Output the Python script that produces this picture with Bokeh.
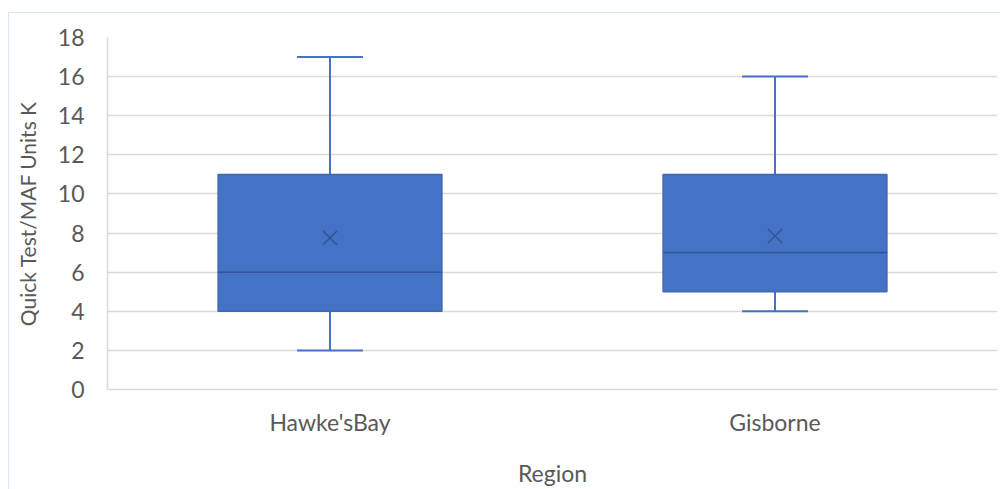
from bokeh.plotting import figure
from bokeh.models import FactorRange, Range1d, ColumnDataSource
from bokeh.transform import dodge
from bokeh.embed import file_html
from bokeh.resources import INLINE

# Box-plot statistics per region (thousands of units)
regions = ["Hawke'sBay", "Gisborne"]
minimum = [2, 4]
q1 = [4, 5]
median = [6, 7]
q3 = [11, 11]
maximum = [17, 16]
mean = [7.75, 7.85]

y_ticks = [0, 2, 4, 6, 8, 10, 12, 14, 16, 18]

FONT = "Lato"
TEXT = "#595959"
BLUE = "#4472C4"
DARK = "#2F5597"
GRID = "#D9D9D9"

src = ColumnDataSource(dict(x=regions, lo=minimum, q1=q1, med=median,
                            q3=q3, hi=maximum, mean=mean))

p = figure(x_range=FactorRange(*regions, range_padding=0),
           y_range=Range1d(0, 18),
           width=992, height=477,
           output_backend="svg", toolbar_location=None,
           min_border_left=98, min_border_right=4,
           min_border_top=24, min_border_bottom=101)
p.margin = (12, 0, 0, 8)
p.styles = {"border-left": "1px solid #DAE3F3", "border-top": "1px solid #DAE3F3"}
p.outline_line_color = None
p.background_fill_color = "white"
p.border_fill_color = "white"

# grid
p.xgrid.grid_line_color = None
p.ygrid.grid_line_color = GRID
p.ygrid.grid_line_width = 1.5
p.yaxis.ticker = y_ticks

# axes
p.yaxis.axis_line_color = GRID
p.yaxis.axis_line_width = 1.5
p.xaxis.axis_line_color = GRID
p.xaxis.axis_line_width = 1.5
for ax in (p.xaxis, p.yaxis):
    ax.major_tick_line_color = None
    ax.minor_tick_line_color = None
    ax.major_label_text_font = FONT
    ax.major_label_text_color = TEXT
    ax.axis_label_text_font = FONT
    ax.axis_label_text_color = TEXT
    ax.axis_label_text_font_style = "normal"
p.yaxis.major_label_text_font_size = "23px"
p.yaxis.major_label_standoff = 17
p.xaxis.major_label_text_font_size = "23px"
p.xaxis.major_label_standoff = 12
p.yaxis.axis_label = "Quick Test/MAF Units K"
p.yaxis.axis_label_text_font_size = "21px"
p.yaxis.axis_label_standoff = 15
p.xaxis.axis_label = "Region"
p.xaxis.axis_label_text_font_size = "23px"
p.xaxis.axis_label_standoff = 20

# whisker stems
p.segment(x0="x", y0="q3", x1="x", y1="hi", source=src, line_color=BLUE, line_width=2)
p.segment(x0="x", y0="lo", x1="x", y1="q1", source=src, line_color=BLUE, line_width=2)

# whisker caps
cap = 0.074
p.segment(x0=dodge("x", -cap, range=p.x_range), x1=dodge("x", cap, range=p.x_range),
          y0="hi", y1="hi", source=src, line_color=BLUE, line_width=2)
p.segment(x0=dodge("x", -cap, range=p.x_range), x1=dodge("x", cap, range=p.x_range),
          y0="lo", y1="lo", source=src, line_color=BLUE, line_width=2)

# boxes
p.vbar(x="x", width=0.503, bottom="q1", top="q3", source=src,
       fill_color=BLUE, line_color="#3E68B5", line_width=1.5)

# medians
p.segment(x0=dodge("x", -0.2515, range=p.x_range), x1=dodge("x", 0.2515, range=p.x_range),
          y0="med", y1="med", source=src, line_color=DARK, line_width=1.5)

# means
p.scatter(x="x", y="mean", source=src, marker="x", size=20,
          line_color=DARK, line_width=1.5)

open("out.html", "w").write(file_html(p, INLINE))
